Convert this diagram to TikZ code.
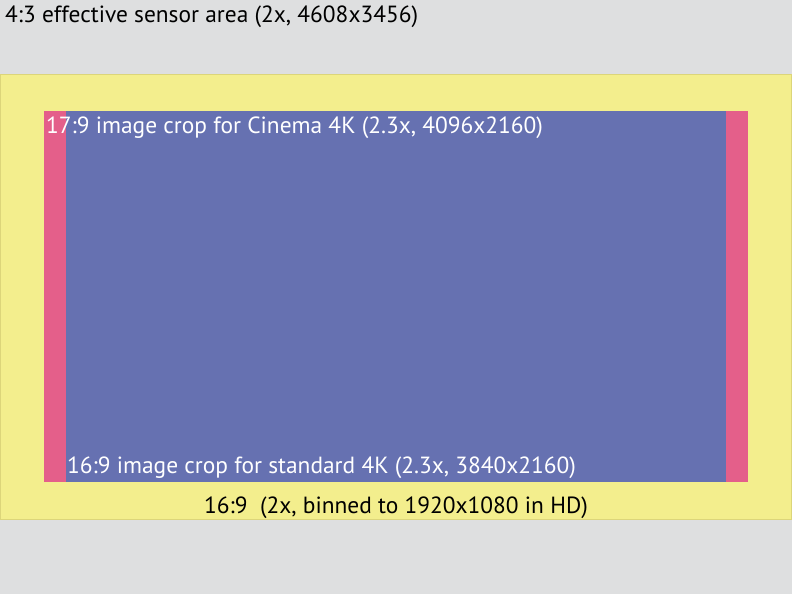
\documentclass[tikz,border=0pt]{standalone}
\usepackage{fontspec}
\setmainfont{PT Sans}
\definecolor{sensorgray}{HTML}{DEDFE0}
\definecolor{hdyellow}{HTML}{F3EE8D}
\definecolor{hdedge}{HTML}{DCD57A}
\definecolor{cinemapink}{HTML}{E45F8A}
\definecolor{uhdblue}{HTML}{6671B1}
\tikzset{
  area/.style={anchor=north west, inner sep=0pt, outer sep=0pt},
  label/.style={anchor=base west, inner sep=0pt, font=\fontsize{23.4}{28}\selectfont},
}
\begin{document}
\begin{tikzpicture}[x=1pt,y=-1pt]
  \useasboundingbox (0,0) rectangle (792,594);
  \fill[sensorgray] (0,0) rectangle (792,594);
  \node[area, fill=hdyellow, draw=hdedge, line width=1pt,
        minimum width=791pt, minimum height=445pt] (hd) at (0.5,74) {};
  \node[area, fill=cinemapink, minimum width=704pt, minimum height=371pt]
    (cinema) at (44,111) {};
  \node[area, fill=uhdblue, minimum width=660pt, minimum height=371pt]
    (uhd) at (66,111) {};
  \node[label] (sensortext) at (5,23) {4:3 effective sensor area (2x, 4608x3456)};
  \node[label, text=white] (cinematext) at (46,133)
    {17:9 image crop for Cinema 4K (2.3x, 4096x2160)};
  \node[label, text=white] (uhdtext) at (67,473)
    {16:9 image crop for standard 4K (2.3x, 3840x2160)};
  \node[label] (hdtext) at (204,513) {16:9\ \ (2x, binned to 1920x1080 in HD)};
\end{tikzpicture}
\end{document}
